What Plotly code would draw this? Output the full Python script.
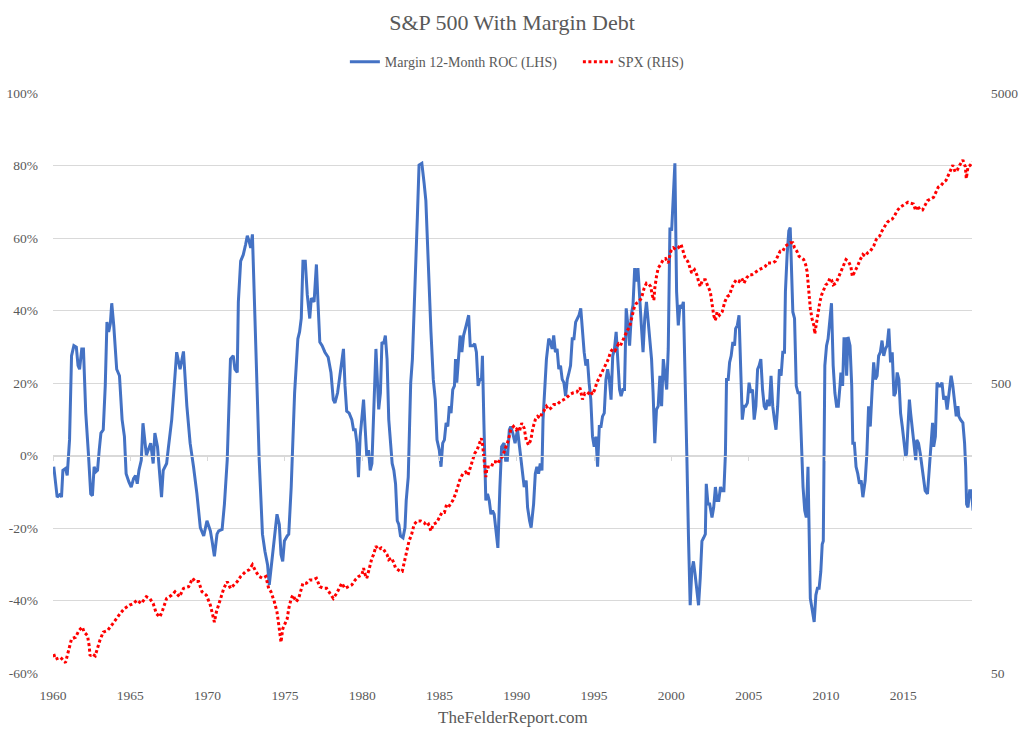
import plotly.graph_objects as go

# Margin debt, 12-month rate of change (%)
roc_year = [
    1960.05, 1960.27, 1960.48, 1960.55, 1960.64, 1960.81, 1960.92, 1961.07, 1961.20, 1961.35,
    1961.51, 1961.62, 1961.72, 1961.86, 1961.97, 1962.12, 1962.29, 1962.44, 1962.55, 1962.66,
    1962.77, 1962.88, 1962.99, 1963.10, 1963.25, 1963.38, 1963.49, 1963.60, 1963.71, 1963.80,
    1963.93, 1964.01, 1964.12, 1964.30, 1964.47, 1964.62, 1964.73, 1964.91, 1965.06, 1965.21,
    1965.34, 1965.45, 1965.56, 1965.71, 1965.82, 1966.04, 1966.32, 1966.48, 1966.59, 1966.76,
    1967.02, 1967.13, 1967.35, 1967.46, 1967.68, 1967.89, 1968.00, 1968.22, 1968.44, 1968.66,
    1968.87, 1969.09, 1969.31, 1969.53, 1969.75, 1969.96, 1970.18,
    1970.29, 1970.44, 1970.61, 1970.72, 1970.94, 1971.09, 1971.27, 1971.44, 1971.48, 1971.66,
    1971.77, 1971.92, 1971.99, 1972.14, 1972.31, 1972.46, 1972.57, 1972.68, 1972.79, 1972.90,
    1973.01, 1973.12, 1973.23, 1973.34, 1973.45, 1973.55, 1973.71, 1973.88, 1973.99, 1974.14,
    1974.32, 1974.49, 1974.64, 1974.75, 1974.86, 1974.97, 1975.15, 1975.25, 1975.41, 1975.52,
    1975.63, 1975.84, 1975.95, 1976.06, 1976.17, 1976.32, 1976.45, 1976.61, 1976.71, 1976.89,
    1977.04, 1977.15, 1977.26, 1977.41, 1977.59, 1977.80, 1977.98, 1978.13, 1978.24, 1978.41,
    1978.50, 1978.68, 1978.79, 1978.89, 1979.00, 1979.16, 1979.33, 1979.44, 1979.55, 1979.66,
    1979.76, 1979.87, 1979.98, 1980.09, 1980.20, 1980.30, 1980.41, 1980.52, 1980.63, 1980.74,
    1980.89, 1981.07, 1981.18, 1981.28, 1981.39, 1981.50, 1981.61, 1981.72, 1981.83, 1981.94,
    1982.05, 1982.16, 1982.27, 1982.37, 1982.48, 1982.64, 1982.77, 1982.85, 1982.98, 1983.14,
    1983.25, 1983.36, 1983.46, 1983.57, 1983.68, 1983.86, 1984.01, 1984.12, 1984.23, 1984.34,
    1984.45, 1984.60, 1984.73, 1984.84, 1984.99, 1985.10, 1985.21, 1985.32, 1985.43, 1985.54,
    1985.64, 1985.75, 1985.86, 1985.97, 1986.04, 1986.12, 1986.23, 1986.34, 1986.45, 1986.56,
    1986.73, 1986.89, 1986.99, 1987.17, 1987.28, 1987.39, 1987.50, 1987.61, 1987.72, 1987.78,
    1987.87, 1987.93, 1988.00, 1988.11, 1988.22, 1988.33, 1988.43, 1988.54, 1988.65, 1988.78,
    1988.91, 1989.02, 1989.18, 1989.28, 1989.39, 1989.52, 1989.61, 1989.74, 1989.89, 1990.05,
    1990.18, 1990.33,
    1990.39, 1990.48, 1990.61, 1990.70, 1990.83, 1990.93, 1991.09, 1991.20, 1991.30, 1991.41,
    1991.52, 1991.63, 1991.70, 1991.81, 1991.92, 1992.07, 1992.18, 1992.29, 1992.39, 1992.50,
    1992.61, 1992.72, 1992.83, 1992.94, 1993.05, 1993.16, 1993.27, 1993.38, 1993.48, 1993.59,
    1993.70, 1993.81, 1993.92, 1994.03, 1994.14, 1994.25, 1994.36, 1994.47, 1994.57, 1994.68,
    1994.79, 1994.90, 1995.01, 1995.12, 1995.23, 1995.34, 1995.45, 1995.55, 1995.66, 1995.77,
    1995.88, 1995.99, 1996.10, 1996.21, 1996.32, 1996.43, 1996.54, 1996.65, 1996.75, 1996.86,
    1996.97, 1997.08, 1997.19, 1997.30, 1997.41, 1997.52, 1997.63, 1997.74, 1997.84, 1997.95,
    1998.06, 1998.17, 1998.28, 1998.39, 1998.50, 1998.61, 1998.72, 1998.82, 1998.93, 1999.04,
    1999.15, 1999.26, 1999.37, 1999.48, 1999.59, 1999.70, 1999.80,
    1999.91, 2000.02, 2000.13, 2000.23, 2000.34, 2000.45, 2000.56, 2000.67, 2000.78, 2000.89,
    2001.00, 2001.11, 2001.22, 2001.32, 2001.43, 2001.54, 2001.65, 2001.76, 2001.87, 2001.98,
    2002.09, 2002.20, 2002.26, 2002.37, 2002.48, 2002.63, 2002.74, 2002.85, 2002.96, 2003.07,
    2003.18, 2003.29, 2003.40, 2003.50, 2003.57, 2003.68, 2003.77, 2003.87, 2003.98, 2004.09,
    2004.16, 2004.27, 2004.38, 2004.49, 2004.59, 2004.70, 2004.81, 2004.92, 2005.03, 2005.14,
    2005.25, 2005.36, 2005.47, 2005.58, 2005.68, 2005.79, 2005.90, 2006.01, 2006.12, 2006.23,
    2006.34, 2006.45, 2006.56, 2006.67, 2006.77, 2006.88, 2006.99, 2007.10, 2007.21, 2007.32,
    2007.38, 2007.49, 2007.60, 2007.69, 2007.80, 2007.86, 2007.97, 2008.08, 2008.19, 2008.30,
    2008.41, 2008.52, 2008.63, 2008.73, 2008.84, 2008.91, 2008.99, 2009.10, 2009.24, 2009.35,
    2009.45, 2009.56, 2009.67, 2009.76, 2009.83,
    2009.93, 2010.04, 2010.14, 2010.25, 2010.36, 2010.47, 2010.58, 2010.69, 2010.80, 2010.91,
    2010.97, 2011.08, 2011.17, 2011.26, 2011.34, 2011.43, 2011.56, 2011.67, 2011.74, 2011.84,
    2011.95, 2012.06, 2012.17, 2012.28, 2012.39, 2012.54, 2012.65, 2012.76, 2012.87, 2012.98,
    2013.09, 2013.20, 2013.31, 2013.41, 2013.52, 2013.63, 2013.74, 2013.85, 2013.96, 2014.07,
    2014.18, 2014.29, 2014.40, 2014.50, 2014.61, 2014.72, 2014.83, 2014.94, 2015.05, 2015.16,
    2015.22, 2015.31, 2015.40, 2015.48, 2015.59, 2015.70, 2015.81, 2015.88, 2015.99, 2016.10,
    2016.20, 2016.31, 2016.42, 2016.57, 2016.68, 2016.79, 2016.90, 2016.97, 2017.08, 2017.19,
    2017.29, 2017.40, 2017.51, 2017.62, 2017.73, 2017.84, 2017.95, 2018.10, 2018.21, 2018.32,
    2018.43, 2018.54, 2018.60, 2018.71, 2018.86, 2018.97, 2019.04, 2019.10, 2019.19, 2019.30,
    2019.41, 2019.52,
]
roc_pct = [
    -3.1, -11.5, -10.6, -11.5, -4.1, -3.6, -5.5, 4.3, 27.5, 30.3,
    29.9, 24.8, 23.8, 29.4, 29.4, 11.7, 0.6, -10.6, -11.1, -3.1,
    -4.5, -4.1, 1.5, 6.2, 7.1, 19.2, 36.8, 34.1, 36.4, 42.0,
    35.9, 31.3, 23.8, 22.0, 9.9, 5.2, -5.0, -7.3, -8.7, -6.4,
    -5.5, -7.8, -4.1, -1.3, 8.9, 0.1, 3.4, -2.2, 6.2, 2.4,
    -11.5, -4.1, -2.2, 2.0, 9.9, 22.0, 28.5, 23.8, 28.7, 13.6,
    3.4, -3.1, -10.6, -19.9, -22.2, -18.0, -20.8,
    -23.6, -27.8, -21.7, -20.8, -20.4, -13.4, -1.3, 17.3, 26.6, 27.5,
    23.8, 22.9, 42.4, 53.6, 55.4, 58.2, 60.6, 59.2, 57.3, 61.0,
    47.1, 33.1, 14.5, -1.3, -13.4, -21.7, -26.4, -30.1, -35.7, -30.1,
    -23.6, -16.2, -19.0, -27.3, -29.2, -23.6, -22.2, -21.7, -8.7, 5.2,
    17.3, 32.2, 34.1, 37.8, 53.6, 53.6, 44.3, 37.8, 43.4, 42.4,
    52.7, 41.5, 31.3, 30.3, 28.5, 27.1, 22.9, 15.4, 14.5, 17.3,
    20.1, 25.7, 29.4, 19.2, 12.2, 11.7, 9.9, 7.1, 7.1, 3.4,
    -6.0, 5.2, 9.9, 15.4, 7.1, -0.4, 1.5, -4.1, -2.2, 9.9,
    29.4, 12.7, 17.3, 31.3, 30.8, 33.1, 26.6, 9.9, 4.3, -2.2,
    -4.1, -7.8, -18.0, -19.0, -22.2, -22.7, -19.9, -12.4, -6.0, 20.1,
    26.6, 42.4, 56.4, 65.7, 80.1, 80.6, 75.0, 70.3, 58.2, 45.2,
    34.1, 21.0, 15.4, 4.3, 1.5, -3.1, 3.4, 4.3, 9.0, 8.0,
    13.6, 11.7, 18.2, 19.2, 26.6, 20.1, 27.5, 33.1, 28.5, 33.1,
    35.9, 38.7, 30.3, 30.3, 30.8, 28.5, 19.2, 21.0, 21.0, 27.5,
    9.9, -2.2, -12.4, -10.6, -12.4, -16.2, -15.2, -16.2, -19.9, -25.5,
    -8.7, 2.4, 3.4, -1.3, -1.3, 7.1, 8.0, 6.2, 3.4, 7.1,
    2.4, -4.1,
    -5.0, -8.7, -6.9, -14.3, -18.0, -19.9, -13.4, -5.0, -3.1, -5.0,
    -2.2, -4.1, 9.9, 19.2, 26.6, 32.2, 31.3, 29.4, 33.1, 28.5,
    29.4, 23.8, 24.8, 21.0, 20.1, 16.4, 21.0, 22.9, 24.8, 32.2,
    32.2, 36.8, 37.8, 38.7, 40.6, 34.1, 28.5, 24.8, 26.6, 20.1,
    15.4, 5.2, 2.4, 5.2, -3.1, 8.0, 8.0, 10.8, 11.7, 21.0,
    23.8, 21.0, 15.4, 27.5, 29.4, 34.1, 24.8, 18.2, 16.4, 18.2,
    18.2, 40.6, 35.9, 30.3, 38.7, 41.5, 51.7, 48.0, 51.7, 45.2,
    35.9, 28.5, 37.8, 42.4, 37.8, 32.2, 26.6, 17.3, 3.4, 12.7,
    13.6, 22.0, 13.6, 26.6, 22.0, 18.2, 29.4,
    62.9, 62.0, 70.3, 80.6, 45.2, 35.9, 41.5, 40.6, 42.4, 23.8,
    0.6, -22.7, -41.3, -32.0, -29.2, -32.9, -36.6, -41.3, -33.8, -23.6,
    -22.7, -21.7, -7.8, -13.4, -13.4, -17.1, -14.3, -8.7, -12.4, -12.4,
    -8.7, -9.7, -9.7, 0.6, 21.0, 21.0, 25.7, 27.5, 31.3, 30.3,
    35.0, 35.9, 38.7, 24.8, 9.9, 13.6, 13.6, 14.5, 20.1, 17.3,
    18.2, 9.9, 13.6, 23.8, 24.8, 26.6, 18.2, 13.6, 12.7, 15.4,
    13.6, 22.0, 13.6, 9.9, 7.1, 13.6, 23.8, 22.0, 28.5, 28.5,
    45.2, 55.4, 62.0, 62.9, 47.1, 39.6, 37.8, 19.2, 17.3, 17.3,
    4.3, -8.7, -15.2, -17.1, -3.1, -18.0, -39.4, -42.2, -45.9, -38.5,
    -36.6, -36.6, -32.0, -24.5, -23.6,
    24.8, 30.3, 32.2, 37.8, 42.0, 24.8, 17.3, 13.6, 13.6, 19.2,
    22.9, 19.2, 32.2, 32.2, 22.0, 32.7, 30.3, 19.2, 3.4, 3.4,
    -3.1, -5.0, -7.8, -6.9, -11.5, -6.9, 0.6, 13.6, 8.0, 17.3,
    25.7, 21.0, 22.0, 27.5, 28.5, 31.7, 27.5, 29.4, 30.3, 35.0,
    25.7, 28.5, 16.4, 17.3, 22.9, 21.0, 11.7, 8.0, 4.3, -0.4,
    0.6, 9.0, 15.4, 11.7, 7.1, 3.4, -1.3, 4.3, 3.4, 0.6,
    -3.1, -6.9, -9.7, -10.6, -3.1, 3.4, 9.0, 2.4, 5.2, 20.1,
    19.2, 19.2, 20.1, 15.4, 16.4, 12.7, 16.4, 22.0, 19.2, 14.5,
    10.8, 13.6, 10.8, 9.9, 9.0, 3.4, -3.1, -13.4, -14.3, -9.7,
    -9.7, -15.2,
]

spx_year = [
    1960.05, 1960.16, 1960.48, 1960.81, 1960.92, 1961.07, 1961.20, 1961.46, 1961.68, 1961.90,
    1962.01, 1962.23, 1962.34, 1962.40, 1962.55, 1962.73, 1962.88, 1963.03, 1963.25, 1963.53,
    1963.86, 1964.08, 1964.34, 1964.62, 1964.95, 1965.21, 1965.43, 1965.71, 1966.04, 1966.26,
    1966.48, 1966.69, 1966.91, 1967.09, 1967.35, 1967.68, 1967.89, 1968.18, 1968.44, 1968.77,
    1969.03, 1969.20, 1969.42, 1969.64, 1969.92, 1970.18,
    1970.29, 1970.44, 1970.57, 1970.72, 1970.87, 1971.05, 1971.27, 1971.48, 1971.70, 1971.92,
    1972.14, 1972.46, 1972.68, 1972.90, 1973.12, 1973.34, 1973.55, 1973.77, 1973.95, 1974.10,
    1974.32, 1974.49, 1974.64, 1974.75, 1974.86, 1974.97, 1975.15, 1975.25, 1975.41, 1975.52,
    1975.73, 1975.89, 1976.06, 1976.17, 1976.39, 1976.61, 1976.82, 1977.04, 1977.26, 1977.48,
    1977.70, 1977.91, 1978.13, 1978.35, 1978.50, 1978.68, 1978.89, 1979.11, 1979.33, 1979.55,
    1979.77, 1979.98,
    1980.09, 1980.20, 1980.30, 1980.41, 1980.52, 1980.63, 1980.74, 1980.89, 1981.07, 1981.24,
    1981.39, 1981.61, 1981.72, 1981.90, 1982.05, 1982.16, 1982.33, 1982.48, 1982.59, 1982.77,
    1982.92, 1983.03, 1983.20, 1983.36, 1983.57, 1983.79, 1984.01, 1984.16, 1984.29, 1984.45,
    1984.60, 1984.82, 1984.99, 1985.16, 1985.32, 1985.47, 1985.64, 1985.86, 1986.04, 1986.19,
    1986.34, 1986.52, 1986.69, 1986.84, 1986.99, 1987.17, 1987.28, 1987.43, 1987.56, 1987.71,
    1987.78, 1987.82, 1987.89, 1987.93, 1988.00, 1988.08, 1988.22, 1988.37, 1988.48, 1988.65,
    1988.81, 1988.91, 1989.07, 1989.18, 1989.31, 1989.46, 1989.61, 1989.79, 1989.96, 1990.11,
    1990.17, 1990.32, 1990.48, 1990.61, 1990.76, 1990.91, 1991.04, 1991.20, 1991.35, 1991.52,
    1991.63, 1991.74, 1991.92, 1992.07, 1992.22, 1992.39, 1992.61, 1992.83, 1993.05, 1993.22,
    1993.44, 1993.66, 1993.88, 1994.09, 1994.25, 1994.40, 1994.57, 1994.75, 1994.90, 1995.05,
    1995.18, 1995.34, 1995.49, 1995.66, 1995.77, 1995.93, 1996.06, 1996.21, 1996.36, 1996.49,
    1996.58, 1996.71, 1996.86, 1997.02, 1997.15, 1997.30, 1997.41, 1997.58, 1997.73, 1997.89,
    1998.06, 1998.24, 1998.39, 1998.54, 1998.67, 1998.76, 1998.87, 1998.93, 1999.04, 1999.15,
    1999.30, 1999.48, 1999.63, 1999.80,
    1999.97, 2000.13, 2000.28, 2000.45, 2000.63, 2000.78, 2000.89, 2001.06, 2001.22, 2001.32,
    2001.50, 2001.65, 2001.76, 2001.87, 2002.02, 2002.20, 2002.37, 2002.52, 2002.63, 2002.74,
    2002.85, 2002.96, 2003.11, 2003.29, 2003.46, 2003.61, 2003.77, 2003.90, 2004.05, 2004.20,
    2004.38, 2004.55, 2004.70, 2004.86, 2005.03, 2005.20, 2005.36, 2005.51, 2005.68, 2005.90,
    2006.08, 2006.23, 2006.38, 2006.56, 2006.73, 2006.88, 2007.04, 2007.21, 2007.38, 2007.54,
    2007.69, 2007.86, 2007.97, 2008.12, 2008.26, 2008.41, 2008.56, 2008.69, 2008.78, 2008.84,
    2008.91, 2008.99, 2009.10, 2009.22, 2009.28, 2009.39, 2009.50, 2009.61, 2009.72, 2009.82,
    2009.99, 2010.14, 2010.25, 2010.36, 2010.47, 2010.65, 2010.80, 2010.95, 2011.13, 2011.30,
    2011.45, 2011.61, 2011.71, 2011.89, 2012.04, 2012.22, 2012.39, 2012.54, 2012.70, 2012.87,
    2013.09, 2013.26, 2013.48, 2013.63, 2013.78, 2013.96, 2014.13, 2014.29, 2014.44, 2014.61,
    2014.79, 2014.94, 2015.16, 2015.31, 2015.48, 2015.66, 2015.81, 2015.92, 2016.10, 2016.25,
    2016.40, 2016.57, 2016.79, 2016.97, 2017.12, 2017.27, 2017.45, 2017.62, 2017.77, 2017.93,
    2018.10, 2018.21, 2018.36, 2018.49, 2018.65, 2018.86, 2019.02, 2019.08, 2019.19, 2019.34,
    2019.47,
]
spx_level = [
    58.1, 55.8, 56.6, 54.3, 57.3, 62.1, 65.6, 66.4, 70.1, 72.0,
    69.2, 67.3, 62.1, 57.3, 58.1, 57.3, 61.3, 64.7, 69.2, 70.1,
    73.9, 76.9, 80.1, 83.4, 85.7, 86.8, 89.2, 86.8, 91.6, 90.4,
    86.8, 80.1, 78.0, 82.3, 90.4, 92.8, 95.3, 91.6, 97.9, 99.2,
    106.1, 103.3, 103.3, 95.3, 92.8, 85.7,
    81.2, 74.9, 81.2, 85.7, 90.4, 97.9, 103.3, 97.9, 100.6, 103.3,
    107.6, 111.9, 113.4, 118.1, 111.9, 107.6, 106.1, 107.6, 97.9, 95.3,
    88.0, 81.2, 71.0, 63.8, 71.0, 72.9, 76.9, 83.4, 90.4, 92.8,
    88.0, 90.4, 97.9, 102.0, 102.0, 104.7, 104.7, 106.1, 99.2, 97.9,
    97.9, 94.1, 90.4, 94.1, 97.9, 102.0, 97.9, 99.2, 100.6, 104.7,
    107.6, 109.0,
    115.0, 109.0, 106.1, 111.9, 119.7, 124.6, 128.0, 136.8, 133.2, 135.0,
    133.2, 128.0, 122.9, 124.6, 119.7, 115.0, 113.4, 111.9, 111.9, 124.6,
    135.0, 142.5, 150.3, 162.8, 167.3, 167.3, 165.1, 160.7, 162.8, 154.4,
    162.8, 165.1, 171.8, 178.8, 178.8, 191.2, 188.7, 196.5, 207.3, 218.6,
    233.8, 243.4, 246.6, 240.1, 253.4, 274.5, 285.8, 293.5, 305.5, 322.4,
    309.7, 293.5, 270.8, 253.4, 237.0, 256.8, 256.8, 256.8, 267.3, 267.3,
    263.8, 274.5, 278.2, 289.6, 301.5, 318.1, 344.7, 354.0, 344.7, 354.0,
    340.1, 363.6, 349.3, 318.1, 305.5, 318.1, 349.3, 373.5, 383.6, 378.5,
    394.0, 399.3, 415.6, 404.6, 410.1, 421.3, 421.3, 432.7, 438.5, 444.4,
    456.5, 462.6, 465.1, 481.6, 438.5, 460.1, 456.5, 468.9, 456.5, 475.3,
    501.4, 522.0, 543.3, 565.6, 588.8, 604.7, 638.0, 655.3, 646.6, 664.1,
    682.2, 673.0, 700.6, 739.1, 759.2, 779.8, 833.9, 903.5, 940.5, 953.1,
    979.0, 1061.0, 1104.4, 1095.8, 1075.4, 1005.6, 966.0, 1061.0, 1165.3, 1246.0,
    1279.8, 1332.2, 1342.9, 1297.2,
    1424.4, 1463.0, 1443.5, 1463.0, 1503.0, 1424.4, 1350.1, 1314.6, 1246.0, 1196.7,
    1229.2, 1180.8, 1119.2, 1075.4, 1134.0, 1134.0, 1075.4, 1032.9, 940.5, 856.4,
    822.6, 879.7, 856.4, 879.7, 953.1, 992.2, 1005.6, 1061.0, 1104.4, 1134.0,
    1119.2, 1149.8, 1104.4, 1149.8, 1180.8, 1180.8, 1196.7, 1212.8, 1229.2, 1246.0,
    1262.8, 1297.2, 1297.2, 1297.2, 1314.6, 1368.7, 1424.4, 1424.4, 1482.6, 1503.0,
    1523.0, 1523.0, 1463.0, 1424.4, 1368.7, 1350.1, 1332.2, 1279.8, 1212.8, 1119.2,
    1005.6, 903.5, 833.9, 790.4, 739.1, 811.9, 903.5, 953.1, 1005.6, 1032.9,
    1089.8, 1104.4, 1149.8, 1134.0, 1089.8, 1104.4, 1155.9, 1196.7, 1262.8, 1332.2,
    1314.6, 1262.8, 1165.3, 1212.8, 1262.8, 1332.2, 1386.8, 1368.7, 1405.7, 1424.4,
    1482.6, 1564.2, 1606.6, 1673.0, 1718.0, 1788.3, 1822.4, 1837.1, 1887.2, 1964.4,
    2017.7, 2045.0, 2072.6, 2100.4, 2083.6, 2072.6, 1964.4, 2045.0, 1975.3, 1975.3,
    2045.0, 2128.1, 2156.7, 2185.7, 2275.5, 2368.6, 2400.5, 2465.6, 2498.7, 2601.2,
    2745.0, 2818.6, 2672.1, 2708.0, 2818.6, 2935.3, 2781.7, 2533.5, 2781.7, 2818.6,
    2894.9,
]

year_ticks = list(range(1960, 2020, 5))
roc_ticks = [-60, -40, -20, 0, 20, 40, 60, 80, 100]
spx_ticks = [50, 500, 5000]

GREY = "#595959"
GRID = "#D9D9D9"
FONT = "Liberation Serif"
X_RANGE = [1960, 2019.45]

fig = go.Figure()
fig.add_trace(go.Scatter(
    x=roc_year, y=roc_pct, name="Margin 12-Month ROC (LHS)", mode="lines",
    line=dict(color="#4472C4", width=3),
))
fig.add_trace(go.Scatter(
    x=spx_year, y=spx_level, name="SPX (RHS)", mode="lines", yaxis="y2",
    line=dict(color="#FF0000", width=3, dash="3px,2.5px"),
))
# empty trace so the year ticks on the 0% line get drawn
fig.add_trace(go.Scatter(x=[], y=[], xaxis="x2", showlegend=False, hoverinfo="skip"))

fig.update_layout(
    width=1024, height=743,
    margin=dict(l=53, r=52, t=93, b=70, autoexpand=False),
    paper_bgcolor="white", plot_bgcolor="white",
    font=dict(family=FONT, color=GREY, size=13.5),
    title=dict(text="S&P 500 With Margin Debt", x=0.5, xanchor="center",
               y=0.9704, yanchor="middle", font=dict(size=22, color=GREY)),
    legend=dict(orientation="h", x=0.3176, xanchor="left", y=1.053, yanchor="middle",
                font=dict(size=14, color=GREY), bgcolor="rgba(0,0,0,0)",
                entrywidth=188),
    xaxis=dict(range=X_RANGE, tickvals=year_ticks, ticktext=[str(y) for y in year_ticks],
               showgrid=False, zeroline=False, showline=False, ticks="",
               ticklabelstandoff=12),
    xaxis2=dict(range=X_RANGE, overlaying="x", anchor="free", position=0.375,
                tickvals=year_ticks, showticklabels=False, showgrid=False, zeroline=False,
                showline=True, linecolor=GRID, linewidth=1,
                ticks="outside", ticklen=4, tickcolor=GRID, side="bottom"),
    yaxis=dict(range=[-60, 100], tickvals=roc_ticks, ticktext=[f"{v}%" for v in roc_ticks],
               showgrid=True, gridcolor=GRID, gridwidth=1, zeroline=False,
               showline=False, ticks="", ticklabelstandoff=14),
    yaxis2=dict(type="log", range=[1.69897, 3.69897], overlaying="y", side="right",
                tickvals=spx_ticks, ticktext=[str(v) for v in spx_ticks],
                showgrid=False, zeroline=False, showline=False, ticks="",
                ticklabelstandoff=18),
    showlegend=True,
    annotations=[dict(text="TheFelderReport.com", xref="paper", yref="paper",
                      x=0.5, y=-0.0759, xanchor="center", yanchor="middle",
                      showarrow=False, font=dict(size=17, color=GREY))],
)

# the page's default body margin would shift the whole chart by 8px
fig.write_html("out.html", config={"displayModeBar": False},
               post_script="document.body.style.margin='0';")
